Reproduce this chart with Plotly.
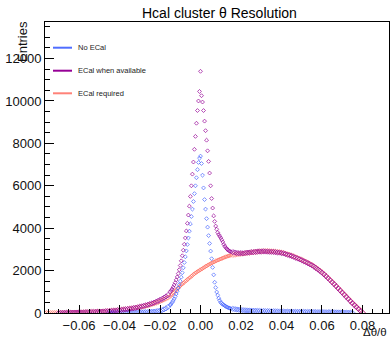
import numpy as np
import plotly.graph_objects as go

# ---------------- data (bin centres and counts) ----------------
x_purple_left = np.round(np.arange(-0.070, -0.0155, 0.001), 4)
x_red_left = np.round(np.arange(-0.077, -0.0155, 0.001), 4)
x_blue_left = np.round(np.arange(-0.045, -0.0155, 0.001), 4)
x_mid = np.round(np.arange(-0.015, 0.01501, 0.0005), 4)
x_right = np.round(np.arange(0.016, 0.08051, 0.001), 4)
x_blue_right = np.round(np.arange(0.016, 0.07551, 0.001), 4)

purple_left = [3, 5, 6, 8, 10, 12, 14, 16, 18, 20,
               23, 26, 29, 32, 36, 40, 44, 48, 52, 56,
               60, 65, 70, 76, 83, 90, 98, 107, 117, 128,
               140, 150, 162, 174, 187, 200, 215, 232, 250, 270,
               290, 312, 336, 362, 390, 420, 452, 488, 528, 570,
               615, 665, 720, 780, 850]
purple_mid = [1000, 1060, 1130, 1220, 1320, 1430, 1560, 1700, 1860, 2040,
              2240, 2460, 2700, 2960, 3240, 3540, 3870, 4230, 4620, 5040,
              5500, 6000, 6550, 7120, 7720, 8330, 8950, 9550, 10000, 10450,
              11400,
              10250, 9950, 9550, 9050, 8600, 8150, 7650, 7150, 6600, 6000,
              5400, 4950, 4580, 4320, 4100, 3950, 3800, 3700, 3620, 3540,
              3450, 3350, 3240, 3150, 3080, 3020, 2980, 2940, 2910, 2890]
purple_right = [2870, 2850, 2830, 2820, 2825, 2815, 2830, 2845, 2850, 2870,
                2865, 2885, 2890, 2905, 2895, 2910, 2900, 2895, 2890, 2885,
                2880, 2870, 2855, 2850, 2830, 2810, 2780, 2750, 2720, 2690,
                2650, 2610, 2570, 2530, 2490, 2440, 2400, 2350, 2300, 2250,
                2190, 2120, 2050, 1980, 1900, 1820, 1730, 1640, 1550, 1450,
                1360, 1260, 1160, 1060, 960, 860, 760, 660, 560, 460,
                370, 280, 190, 100, 20]

red_left = [0, 0, 0, 0, 0, 1, 2,
            3, 5, 6, 8, 10, 12, 14, 16, 18, 20,
            23, 26, 29, 32, 36, 40, 44, 48, 52, 56,
            60, 65, 70, 76, 83, 90, 98, 107, 117, 128,
            140, 150, 162, 174, 187, 200, 213, 228, 244, 262,
            280, 298, 318, 340, 364, 390, 418, 448, 480, 515,
            552, 592, 635, 680, 728]
red_mid = [780, 840, 875, 935, 975, 1040, 1075, 1135, 1175, 1235,
           1275, 1330, 1365, 1415, 1445, 1495, 1525, 1580, 1605, 1655,
           1685, 1740, 1765, 1815, 1845, 1895, 1915, 1955, 1975, 2015,
           2035,
           2075, 2095, 2135, 2155, 2195, 2215, 2255, 2275, 2305, 2325,
           2355, 2375, 2405, 2415, 2455, 2465, 2495, 2505, 2535, 2545,
           2575, 2585, 2615, 2625, 2655, 2655, 2685, 2695, 2715, 2715]
red_right = [2740, 2750, 2770, 2780, 2790, 2800, 2820, 2830, 2840, 2860,
             2870, 2880, 2890, 2900, 2910, 2910, 2920, 2920, 2910, 2910,
             2900, 2890, 2880, 2870, 2850, 2830, 2800, 2770, 2740, 2710,
             2670, 2630, 2590, 2550, 2510, 2460, 2420, 2370, 2320, 2270,
             2210, 2140, 2070, 2000, 1920, 1840, 1750, 1660, 1570, 1470,
             1380, 1280, 1180, 1080, 980, 880, 780, 680, 580, 480,
             390, 300, 210, 120, 30]

blue_left = [5, 6, 6, 7, 8, 9, 10, 11, 12, 13,
             15, 16, 18, 20, 23, 26, 30, 34, 39, 45,
             50, 57, 66, 77, 92, 110, 135, 170, 220, 290]
blue_mid = [370, 430, 500, 580, 670, 780, 900, 1030, 1180, 1330,
            1500, 1690, 1900, 2130, 2380, 2650, 2930, 3230, 3540, 3860,
            4200, 4550, 4900, 5260, 5630, 6000, 6380, 6760, 7100, 7300,
            7400,
            7050, 6500, 5900, 5350, 4900, 4450, 4050, 3650, 3280, 2920,
            2560, 2150, 1800, 1450, 1200, 990, 840, 700, 590, 500,
            450, 410, 375, 340, 310, 280, 260, 240, 225, 210]
blue_right = [195, 180, 165, 152, 142, 134, 127, 121, 116, 111,
              107, 103, 99, 96, 93, 90, 88, 85, 83, 80,
              78, 76, 74, 72, 70, 68, 66, 64, 62, 60,
              58, 57, 55, 54, 52, 51, 50, 48, 47, 46,
              45, 44, 42, 41, 40, 38, 37, 35, 34, 32,
              30, 28, 26, 24, 22, 20, 18, 16, 14, 12]

series_names = ["No ECal", "ECal when available", "ECal required"]
x_tick_vals = [-0.06, -0.04, -0.02, 0.0, 0.02, 0.04, 0.06, 0.08]
y_tick_vals = [0, 2000, 4000, 6000, 8000, 10000, 12000]

# ---------------- figure ----------------
BLUE = "rgb(70,100,255)"
PURPLE = "rgb(150,0,150)"
RED = "rgba(255,95,80,0.75)"

FONT = "Liberation Sans, Arial, sans-serif"

fig = go.Figure()


def add(xs, ys, color, name):
    # coarse (1-unit) segments get slightly larger markers so they merge into a band
    sizes = np.concatenate([np.full(len(xs[0]), 4.0), np.full(len(xs[1]), 3.0), np.full(len(xs[2]), 4.0)])
    fig.add_trace(go.Scatter(
        x=np.concatenate(xs), y=np.concatenate([np.array(v, float) for v in ys]),
        mode="markers", name=name, showlegend=False,
        marker=dict(symbol="diamond-open", size=sizes, color=color, line=dict(width=1, color=color)),
    ))


add([x_red_left, x_mid, x_right], [red_left, red_mid, red_right], RED, series_names[2])
add([x_blue_left, x_mid, x_blue_right], [blue_left, blue_mid, blue_right], BLUE, series_names[0])
add([x_purple_left, x_mid, x_right], [purple_left, purple_mid, purple_right], PURPLE, series_names[1])

W, H = 390, 338
L, R, T, B = 45, 1, 22, 25
pw, ph = W - L - R, H - T - B


def px(xp):
    return (xp - L) / pw


def py(yp):
    return (H - B - yp) / ph


fig.update_layout(
    width=W, height=H,
    margin=dict(l=L, r=R, t=T, b=B, pad=0),
    paper_bgcolor="white", plot_bgcolor="white",
    font=dict(family=FONT, size=13, color="#111"),
    showlegend=False,
    xaxis=dict(
        range=[-0.0768, 0.0931], tickvals=x_tick_vals, tickformat=".2f",
        ticks="inside", ticklen=8, tickcolor="black", tickwidth=1,
        showline=True, linecolor="black", linewidth=1, mirror=True,
        showgrid=False, zeroline=False,
        minor=dict(dtick=0.005, tick0=0, ticks="inside", ticklen=4, tickcolor="black", showgrid=False),
        tickfont=dict(size=13, family=FONT, color="#111"),
    ),
    yaxis=dict(
        range=[0, 13725], tickvals=y_tick_vals, tickformat="d",
        ticks="inside", ticklen=9, tickcolor="black", tickwidth=1,
        showline=True, linecolor="black", linewidth=1, mirror=True,
        showgrid=False, zeroline=False,
        minor=dict(dtick=500, tick0=0, ticks="inside", ticklen=5, tickcolor="black", showgrid=False),
        tickfont=dict(size=13, family=FONT, color="#111"),
    ),
)

# title
fig.add_annotation(text="Hcal cluster θ Resolution", xref="paper", yref="paper",
                   x=px(219), y=py(13), xanchor="center", yanchor="middle",
                   showarrow=False, font=dict(size=14, family=FONT, color="black"))
# axis titles
fig.add_annotation(text="Entries", xref="paper", yref="paper", textangle=-90,
                   x=px(23), y=py(42), xanchor="center", yanchor="middle",
                   showarrow=False, font=dict(size=13, family=FONT, color="#111"))
fig.add_annotation(text="Δθ/θ", xref="paper", yref="paper",
                   x=1.0, y=py(331.5), xanchor="right", yanchor="middle",
                   showarrow=False, font=dict(size=11.5, family=FONT, color="#111"))

# legend (drawn like ROOT's TLegend without border)
legend_rows = [(series_names[0], "rgb(80,110,255)", 47.7),
               (series_names[1], PURPLE, 70.7),
               (series_names[2], "rgb(255,130,120)", 93.3)]
for name, col, ypix in legend_rows:
    fig.add_shape(type="line", xref="paper", yref="paper",
                  x0=px(53), x1=px(72), y0=py(ypix), y1=py(ypix),
                  line=dict(color=col, width=2))
    fig.add_annotation(text=name, xref="paper", yref="paper",
                       x=px(76), y=py(ypix), xanchor="left", yanchor="middle",
                       showarrow=False, font=dict(size=7.5, family=FONT, color="#222"))

fig.write_html("out.html")
